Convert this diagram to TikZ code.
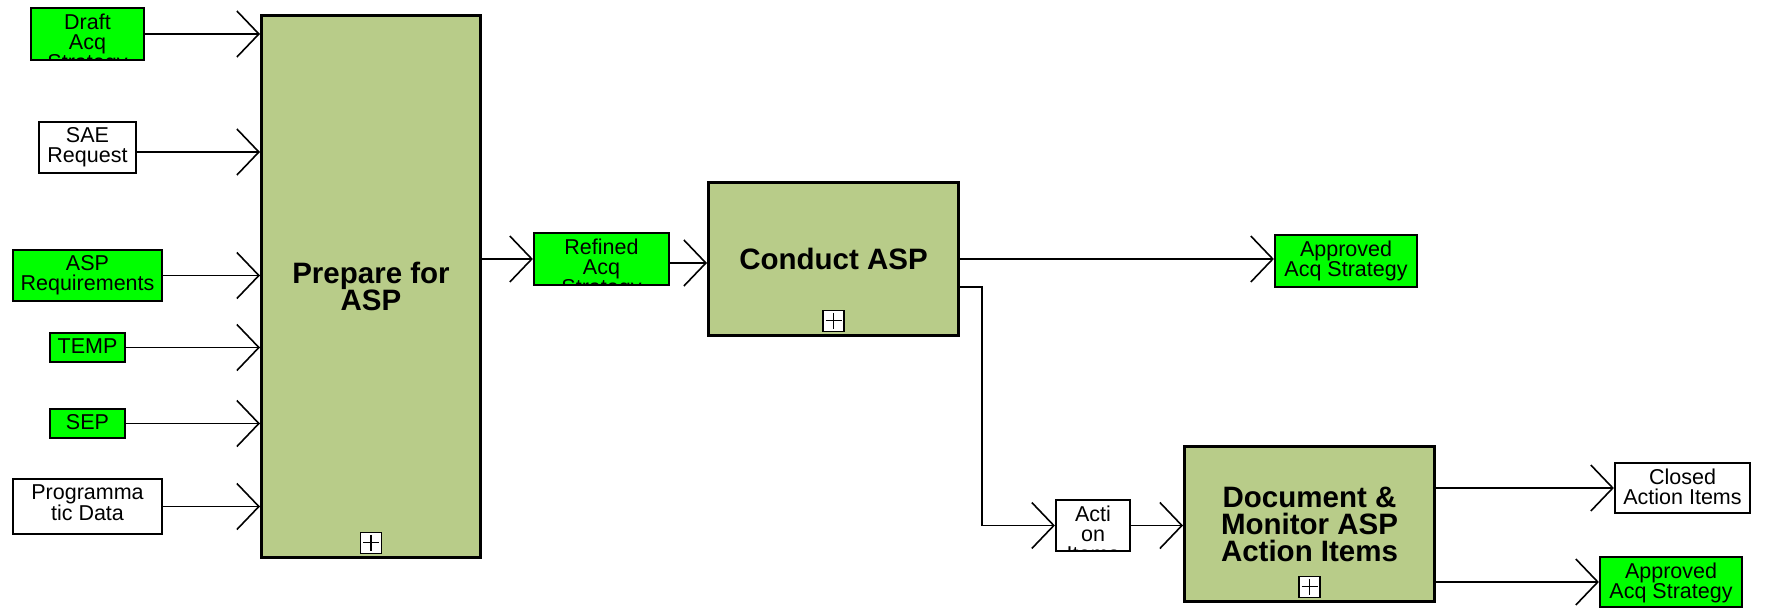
\documentclass[tikz,border=0pt]{standalone}
\usepackage{fontspec}
\setmainfont{Liberation Sans}
\usepackage{tikz}
\usetikzlibrary{arrows.meta, positioning}
\definecolor{aspgreen}{RGB}{0, 255, 0}
\definecolor{aspolive}{RGB}{184, 204, 137}
\newcommand{\labelfont}{\fontsize{21.5}{20}\selectfont}
\newcommand{\actfont}{\fontsize{29.5}{27}\selectfont\bfseries}

\begin{document}
\begin{tikzpicture}[
    x=1pt, y=-1pt,
    activity/.style={rectangle, draw=black, line width=3pt, fill=aspolive, align=center, font=\actfont},
    data/.style={rectangle, draw=black, line width=2.2pt, inner sep=0pt,
        path picture={\node[anchor=north, align=center, font=\labelfont, inner sep=0pt, outer sep=0pt, minimum width=0pt, minimum height=0pt, draw=none, fill=none] at ([yshift=-5.5pt]path picture bounding box.north) {#1};}},
    plusbox/.style={rectangle, draw=black, fill=white, line width=1.5pt, minimum size=21pt, inner sep=0pt,
        path picture={\draw[line width=1.3pt] ([xshift=2.5pt]path picture bounding box.west) -- ([xshift=-2.5pt]path picture bounding box.east)
            ([yshift=-2.5pt]path picture bounding box.north) -- ([yshift=2.5pt]path picture bounding box.south);}},
    arrow/.style={-{Straight Barb[length=22pt, width=46pt]}, line width=1.6pt}
]
\useasboundingbox (0,0) rectangle (1771,610);

% Activities
\node[activity, minimum width=219pt, minimum height=542pt] (prep) at (371, 286.5) {Prepare for\\ASP};
\node[plusbox, above=5pt of prep.south] (prepplus) {};
\node[activity, minimum width=250pt, minimum height=153pt] (conduct) at (833.5, 259) {Conduct ASP};
\node[plusbox, above=5pt of conduct.south] (conductplus) {};
\node[activity, minimum width=250pt, minimum height=155pt] (docmon) at (1309.5, 524) {Document \&\\Monitor ASP\\Action Items};
\node[plusbox, above=5pt of docmon.south] (docmonplus) {};

% Inputs
\node[data={Draft\\Acq\\Strategy}, fill=aspgreen, minimum width=113pt, minimum height=52pt] (draft) at (87.5, 34) {};
\node[data={SAE\\Request}, fill=white, minimum width=97pt, minimum height=51pt] (sae) at (87.5, 147.5) {};
\node[data={ASP\\Requirements}, fill=aspgreen, minimum width=149pt, minimum height=51pt] (aspreq) at (87.5, 275.5) {};
\node[data={TEMP}, fill=aspgreen, minimum width=75pt, minimum height=29pt] (temp) at (87.5, 347.5) {};
\node[data={SEP}, fill=aspgreen, minimum width=75pt, minimum height=29pt] (sep) at (87.5, 423.5) {};
\node[data={Programma\\tic Data}, fill=white, minimum width=149pt, minimum height=55pt] (progdata) at (87.5, 506.5) {};

% Intermediate data
\node[data={Refined\\Acq\\Strategy}, fill=aspgreen, minimum width=135pt, minimum height=52pt] (refined) at (601.5, 259) {};
\node[data={Acti\\on\\Items}, fill=white, minimum width=74pt, minimum height=51pt] (actionitems) at (1093, 525.5) {};

% Outputs
\node[data={Approved\\Acq Strategy}, fill=aspgreen, minimum width=142pt, minimum height=52pt] (approved1) at (1346, 261) {};
\node[data={Closed\\Action Items}, fill=white, minimum width=135pt, minimum height=50pt] (closed) at (1682.5, 488) {};
\node[data={Approved\\Acq Strategy}, fill=aspgreen, minimum width=142pt, minimum height=50pt] (approved2) at (1671, 582) {};

% Arrows
\draw[arrow] (draft.east) -- (draft.east -| prep.west);
\draw[arrow] ([yshift=-4.5pt]sae.east) -- ([yshift=-4.5pt]sae.east -| prep.west);
\draw[arrow] (aspreq.east) -- (aspreq.east -| prep.west);
\draw[arrow] (temp.east) -- (temp.east -| prep.west);
\draw[arrow] (sep.east) -- (sep.east -| prep.west);
\draw[arrow] (progdata.east) -- (progdata.east -| prep.west);
\draw[arrow] (refined.west -| prep.east) -- (refined.west);
\draw[arrow] ([yshift=-4pt]refined.east) -- ([yshift=-4pt]refined.east -| conduct.west);
\draw[arrow] (conduct.east) -- (conduct.east -| approved1.west);
\draw[arrow] ([yshift=-28pt]conduct.east) -- ++(22,0) |- (actionitems.west);
\draw[arrow] (actionitems.east) -- (actionitems.east -| docmon.west);
\draw[arrow] (closed.west -| docmon.east) -- (closed.west);
\draw[arrow] (approved2.west -| docmon.east) -- (approved2.west);

\end{tikzpicture}
\end{document}
